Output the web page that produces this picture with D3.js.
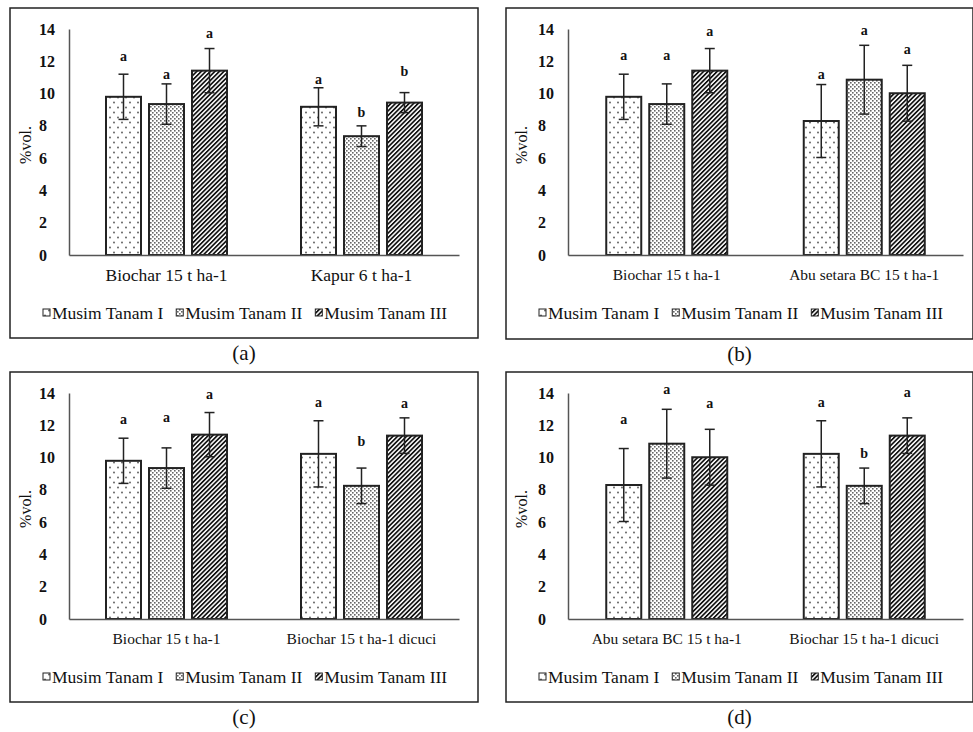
<!DOCTYPE html>
<html>
<head>
<meta charset="utf-8">
<script src="https://cdn.jsdelivr.net/npm/d3@7"></script>
<style>
  body { margin: 0; background: #fff; }
  svg { display: block; }
  text { font-family: "Liberation Serif", "Times New Roman", serif; fill: #111; }
</style>
</head>
<body>
<script>
// series (growing seasons) and y ticks
var seriesNames = ["Musim Tanam I", "Musim Tanam II", "Musim Tanam III"];
var yTicks = [0, 2, 4, 6, 8, 10, 12, 14];

// treatment means / std errors, one value per season
var biocharMean = [9.8, 9.35, 11.42];
var biocharErr = [1.4, 1.25, 1.37];
var kapurMean = [9.18, 7.36, 9.44];
var kapurErr = [1.18, 0.64, 0.62];
var abuMean = [8.3, 10.86, 10.02];
var abuErr = [2.26, 2.13, 1.73];
var dicuciMean = [10.23, 8.25, 11.36];
var dicuciErr = [2.05, 1.1, 1.1];

// which treatments are compared in each panel
var catsA = ["Biochar 15 t ha-1", "Kapur 6 t ha-1"];
var catsB = ["Biochar 15 t ha-1", "Abu setara BC 15 t ha-1"];
var catsC = ["Biochar 15 t ha-1", "Biochar 15 t ha-1 dicuci"];
var catsD = ["Abu setara BC 15 t ha-1", "Biochar 15 t ha-1 dicuci"];

// significance letters and the height (in %vol.) they sit at
var lettersA = [["a", "a", "a"], ["a", "b", "b"]];
var lettersB = [["a", "a", "a"], ["a", "a", "a"]];
var lettersC = [["a", "a", "a"], ["a", "b", "a"]];
var lettersD = [["a", "a", "a"], ["a", "b", "a"]];
var letterYA = [[12.28, 11.17, 13.7], [10.86, 8.83, 11.36]];
var letterYB = [[12.35, 12.35, 13.8], [11.15, 13.9, 12.7]];
var letterYC = [[12.35, 12.48, 13.9], [13.4, 11.0, 13.35]];
var letterYD = [[12.37, 14.2, 13.35], [13.4, 10.25, 14.0]];

var captions = ["(a)", "(b)", "(c)", "(d)"];

var svg = d3.select("body").append("svg").attr("width", 973).attr("height", 732);

// fill patterns
var defs = svg.append("defs");
var p0 = defs.append("pattern").attr("id", "pat0").attr("patternUnits", "userSpaceOnUse")
    .attr("width", 8).attr("height", 10);
p0.append("rect").attr("width", 8).attr("height", 10).attr("fill", "#fff");
p0.append("circle").attr("cx", 2).attr("cy", 2.5).attr("r", 0.9).attr("fill", "#555");
p0.append("circle").attr("cx", 6).attr("cy", 7.5).attr("r", 0.9).attr("fill", "#555");

var p1 = defs.append("pattern").attr("id", "pat1").attr("patternUnits", "userSpaceOnUse")
    .attr("width", 4).attr("height", 4);
p1.append("rect").attr("width", 4).attr("height", 4).attr("fill", "#fff");
p1.append("rect").attr("x", 0).attr("y", 0).attr("width", 1.6).attr("height", 1.6).attr("fill", "#666");
p1.append("rect").attr("x", 2).attr("y", 2).attr("width", 1.6).attr("height", 1.6).attr("fill", "#666");

var p2 = defs.append("pattern").attr("id", "pat2").attr("patternUnits", "userSpaceOnUse")
    .attr("width", 3.2).attr("height", 3.2).attr("patternTransform", "rotate(45)");
p2.append("rect").attr("width", 3.2).attr("height", 3.2).attr("fill", "#fff");
p2.append("rect").attr("width", 1.7).attr("height", 3.2).attr("fill", "#111");

var panels = [
  {fx: 10, fy: 8, fw: 468, fh: 330, left: 69, right: 459, cats: catsA,
   means: [biocharMean, kapurMean], errs: [biocharErr, kapurErr], letters: lettersA, ly: letterYA, catFont: 17.5},
  {fx: 506, fy: 8, fw: 467, fh: 331, left: 568, right: 963, cats: catsB,
   means: [biocharMean, abuMean], errs: [biocharErr, abuErr], letters: lettersB, ly: letterYB, catFont: 15.5},
  {fx: 10, fy: 372, fw: 468, fh: 330, left: 69, right: 459, cats: catsC,
   means: [biocharMean, dicuciMean], errs: [biocharErr, dicuciErr], letters: lettersC, ly: letterYC, catFont: 15.5},
  {fx: 506, fy: 372, fw: 467, fh: 330, left: 568, right: 963, cats: catsD,
   means: [abuMean, dicuciMean], errs: [abuErr, dicuciErr], letters: lettersD, ly: letterYD, catFont: 15.5}
];

panels.forEach(function(p, k) {
  var g = svg.append("g");

  g.append("rect")
    .attr("x", p.fx).attr("y", p.fy).attr("width", p.fw).attr("height", p.fh)
    .attr("fill", "none").attr("stroke", "#222").attr("stroke-width", 1.5);

  var top = p.fy + 21, bottom = p.fy + 247;

  var y = d3.scaleLinear().domain([0, 14]).range([bottom, top]);
  var x0 = d3.scaleBand().domain(p.cats).range([p.left, p.right]);
  var x1 = d3.scaleBand().domain(seriesNames).range([-60.5, 60.5]).paddingInner(8 / 43);

  var rows = [];
  p.cats.forEach(function(c, i) {
    seriesNames.forEach(function(s, j) {
      rows.push({c: c, s: s, j: j, v: p.means[i][j], e: p.errs[i][j], l: p.letters[i][j], ly: p.ly[i][j]});
    });
  });
  var cx = function(d) { return x0(d.c) + x0.bandwidth() / 2 + x1(d.s) + x1.bandwidth() / 2; };

  // y axis
  var ya = g.append("g")
    .attr("transform", "translate(" + p.left + ",0)")
    .call(d3.axisLeft(y).tickValues(yTicks).tickSize(0).tickSizeOuter(0));
  ya.select(".domain").attr("stroke", "#555").attr("stroke-width", 1.5);
  ya.selectAll("text")
    .attr("x", -30).attr("text-anchor", "start")
    .style("font-family", "'Liberation Serif', serif").style("font-weight", "bold")
    .style("font-size", "16px").attr("fill", "#111");

  // bars
  g.selectAll(".bar").data(rows).enter().append("rect")
    .attr("x", function(d) { return x0(d.c) + x0.bandwidth() / 2 + x1(d.s); })
    .attr("y", function(d) { return y(d.v); })
    .attr("width", x1.bandwidth())
    .attr("height", function(d) { return y(0) - y(d.v); })
    .attr("fill", function(d) { return "url(#pat" + d.j + ")"; })
    .attr("stroke", "#222").attr("stroke-width", 2);

  // x axis (drawn after bars so the baseline sits on top)
  var xa = g.append("g")
    .attr("transform", "translate(0," + bottom + ")")
    .call(d3.axisBottom(x0).tickSize(0).tickSizeOuter(0).tickPadding(14));
  xa.select(".domain").attr("stroke", "#555").attr("stroke-width", 1.5);
  xa.selectAll("text")
    .style("font-family", "'Liberation Serif', serif")
    .style("font-size", p.catFont + "px").attr("fill", "#111");

  // error bars
  var eb = g.selectAll(".err").data(rows).enter().append("g").attr("stroke", "#222").attr("stroke-width", 1.5);
  eb.append("line")
    .attr("x1", cx).attr("x2", cx)
    .attr("y1", function(d) { return y(d.v + d.e); })
    .attr("y2", function(d) { return y(d.v - d.e); });
  eb.append("line")
    .attr("x1", function(d) { return cx(d) - 5; }).attr("x2", function(d) { return cx(d) + 5; })
    .attr("y1", function(d) { return y(d.v + d.e); }).attr("y2", function(d) { return y(d.v + d.e); });
  eb.append("line")
    .attr("x1", function(d) { return cx(d) - 5; }).attr("x2", function(d) { return cx(d) + 5; })
    .attr("y1", function(d) { return y(d.v - d.e); }).attr("y2", function(d) { return y(d.v - d.e); });

  // significance letters
  g.selectAll(".let").data(rows).enter().append("text")
    .attr("x", cx).attr("y", function(d) { return y(d.ly); })
    .attr("dy", "0.3em")
    .attr("text-anchor", "middle")
    .style("font-weight", "bold").style("font-size", "14px")
    .text(function(d) { return d.l; });

  // y title
  g.append("text")
    .attr("transform", "translate(" + (p.fx + 15) + "," + (p.fy + 137) + ") rotate(-90)")
    .attr("text-anchor", "middle").attr("dy", "0.35em")
    .style("font-size", "16px")
    .text("%vol.");

  // legend
  var lg = g.append("g").attr("transform", "translate(" + (p.fx + 33) + "," + (p.fy + 305) + ")");
  var lx = 0;
  seriesNames.forEach(function(s, j) {
    lg.append("rect").attr("x", lx).attr("y", -4).attr("width", 7).attr("height", 7)
      .attr("fill", "url(#pat" + j + ")").attr("stroke", "#222").attr("stroke-width", 1);
    var t = lg.append("text").attr("x", lx + 9).attr("y", 5.5)
      .style("font-size", "17.5px").text(s);
    lx += 9 + t.node().getComputedTextLength() + 13;
  });

  // caption
  svg.append("text")
    .attr("x", p.fx + p.fw / 2).attr("y", p.fy + p.fh + 15)
    .attr("dy", "0.35em").attr("text-anchor", "middle")
    .style("font-size", "21px")
    .text(captions[k]);
});
</script>
</body>
</html>
